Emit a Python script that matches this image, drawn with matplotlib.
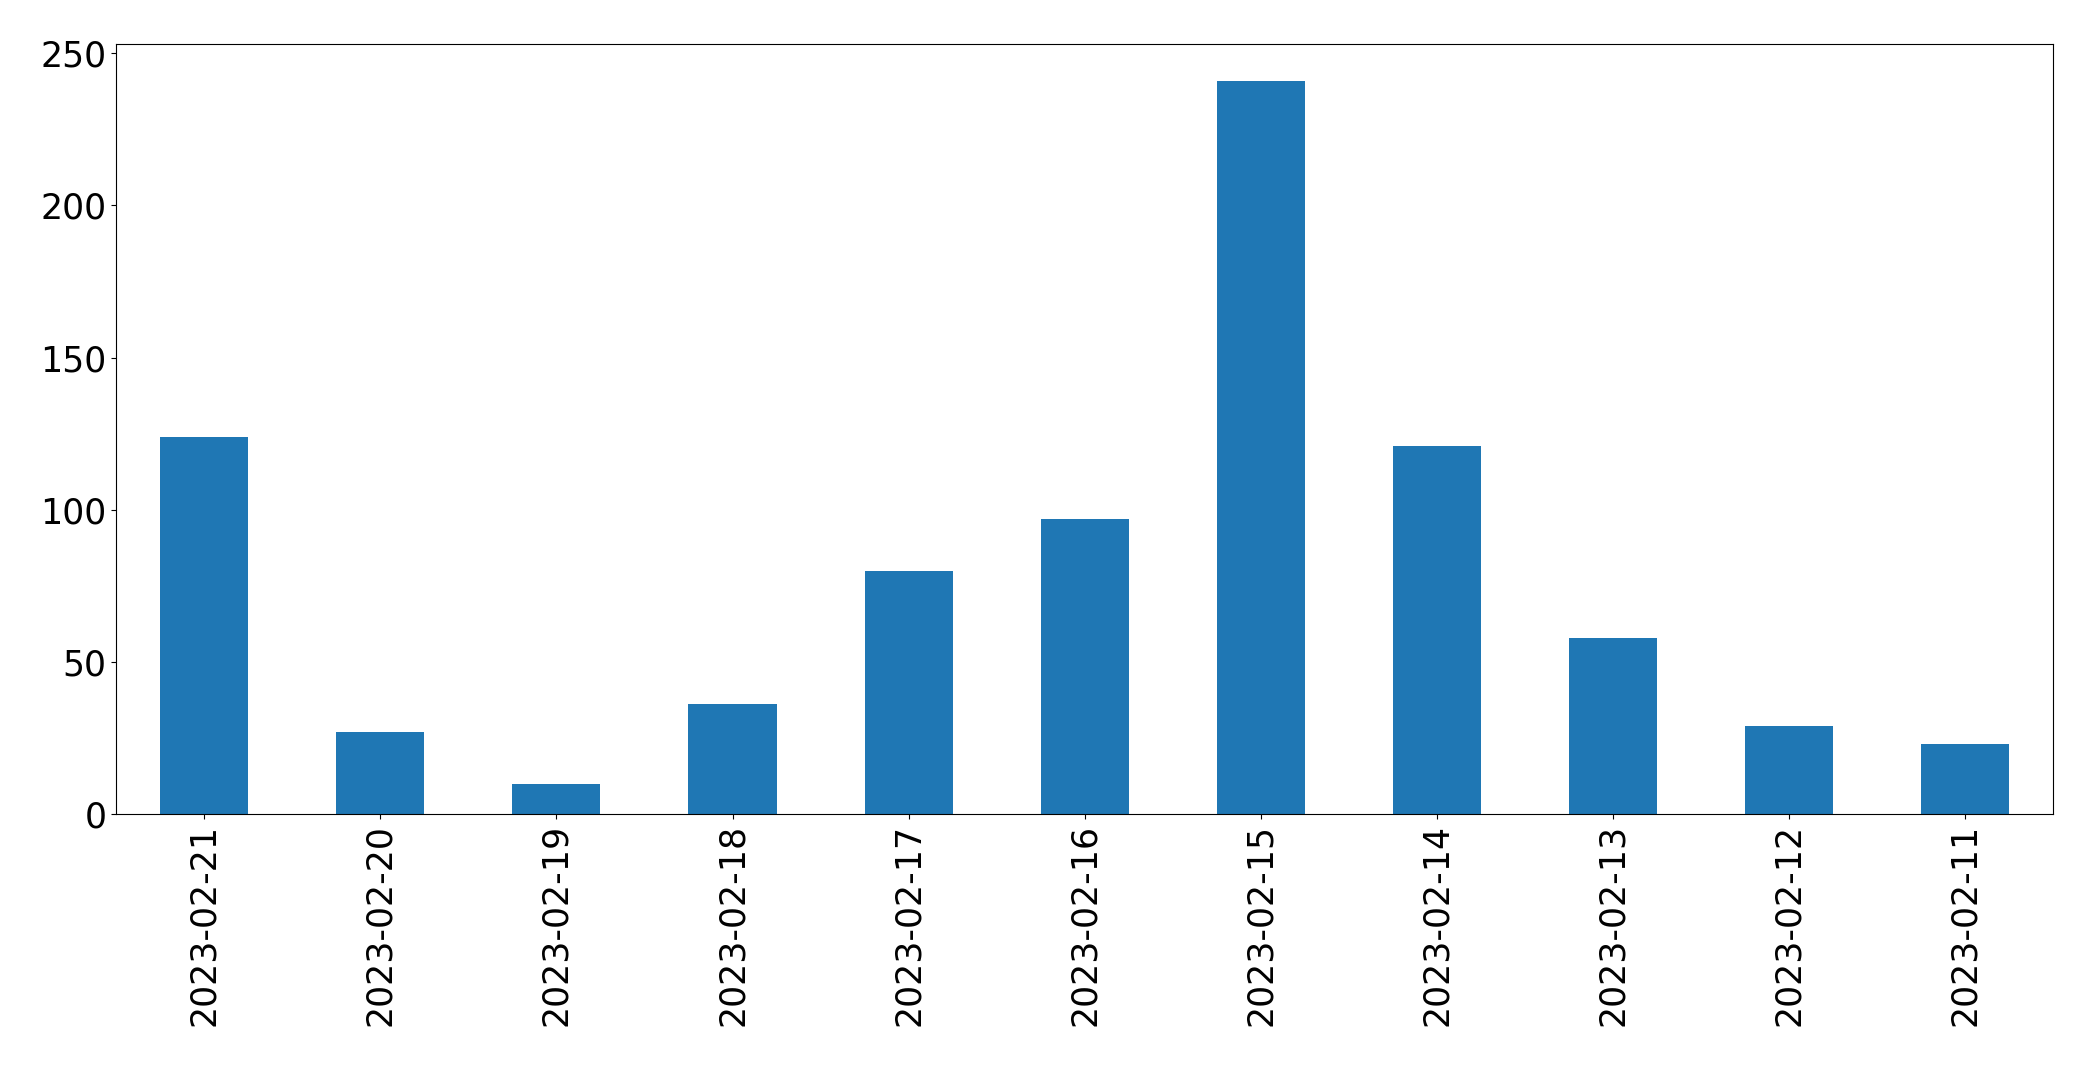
import pandas as pd
import matplotlib
matplotlib.use("Agg")
import matplotlib.pyplot as plt

# daily counts, newest first
dates = ["2023-02-21", "2023-02-20", "2023-02-19", "2023-02-18", "2023-02-17", "2023-02-16",
         "2023-02-15", "2023-02-14", "2023-02-13", "2023-02-12", "2023-02-11"]
counts = [124, 27, 10, 36, 80, 97, 241, 121, 58, 29, 23]

plt.rcParams.update({'font.size': 25})

s = pd.Series(counts, index=dates)
fig, ax = plt.subplots(figsize=(20.93, 10.66), dpi=100)
s.plot(kind='bar', ax=ax)
fig.subplots_adjust(left=0.0555, right=0.981, top=0.9587, bottom=0.2364)
fig.savefig("out.png", dpi=100)
